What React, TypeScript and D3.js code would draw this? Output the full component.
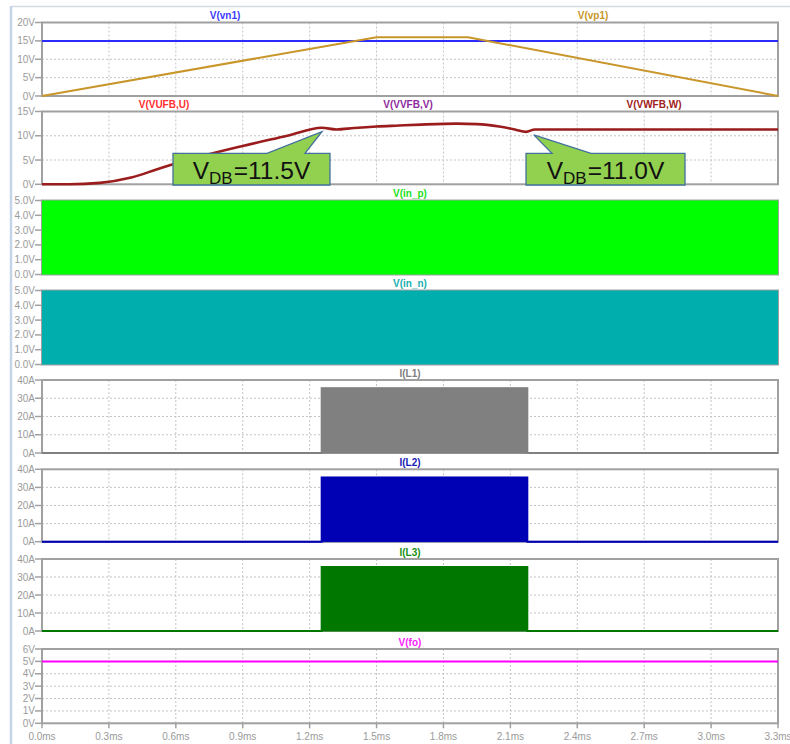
import * as d3 from 'd3';
import React from 'react';

// time axis (ms)
const timeTicks = [0, 0.3, 0.6, 0.9, 1.2, 1.5, 1.8, 2.1, 2.4, 2.7, 3.0, 3.3];

// V(vn1) / V(vp1)
const vn1T = [0, 3.3];
const vn1V = [15, 15];
const vp1T = [0, 1.5, 1.91, 3.3];
const vp1V = [0, 16, 16, 0];

// V(VUFB,U) ~ V(VVFB,V) ~ V(VWFB,W) (overlapping)
const fbT = [0, 0.12, 0.26, 0.4, 0.53, 0.7, 0.9, 1.1, 1.255, 1.32, 1.4, 1.5, 1.6, 1.7, 1.86, 1.95, 2.05, 2.12, 2.17, 2.21, 3.3];
const fbV = [0, 0, 0.3, 1.4, 3.3, 5.6, 7.9, 10.0, 11.65, 11.3, 11.6, 11.9, 12.1, 12.3, 12.5, 12.4, 11.9, 11.3, 10.8, 11.3, 11.3];

// V(in_p) / V(in_n) envelope (dense switching)
const inT = [0, 3.3];
const inV = [5, 5];

// I(L1..3) envelope
const iLT = [0, 1.254, 1.254, 2.176, 2.176, 3.3];
const iLV = [0, 0, 35.5, 35.5, 0, 0];

// V(fo)
const foT = [0, 3.3];
const foV = [5, 5];

const vTicks20 = [0, 5, 10, 15, 20];
const vTicks15 = [0, 5, 10, 15];
const vTicks5 = [0, 1, 2, 3, 4, 5];
const aTicks40 = [0, 10, 20, 30, 40];
const vTicks6 = [0, 1, 2, 3, 4, 5, 6];

const fmtV = (v: number) => `${v}V`;
const fmtV1 = (v: number) => `${v.toFixed(1)}V`;
const fmtA = (v: number) => `${v}A`;

const W = 790;
const H = 744;
const x = d3.scaleLinear().domain([0, 3.3]).range([42, 778]);

const zip = (t: number[], v: number[]) => t.map((tt, i) => [tt, v[i]] as [number, number]);

type Trace = { t: number[]; v: number[]; color: string; kind: 'line' | 'area'; width?: number; smooth?: boolean };
type Title = { text: string; color: string; cx: number };

const panels: { top: number; bottom: number; max: number; ticks: number[]; fmt: (v: number) => string; traces: Trace[]; titles: Title[]; cover?: boolean }[] = [
  {
    top: 22.5, bottom: 96, max: 20, ticks: vTicks20, fmt: fmtV,
    traces: [
      { t: vn1T, v: vn1V, color: '#2b2bff', kind: 'line' },
      { t: vp1T, v: vp1V, color: '#c8962a', kind: 'line' },
    ],
    titles: [
      { text: 'V(vn1)', color: '#3b3bff', cx: 225 },
      { text: 'V(vp1)', color: '#c8962a', cx: 593 },
    ],
  },
  {
    top: 111.5, bottom: 184.3, max: 15, ticks: vTicks15, fmt: fmtV,
    traces: [{ t: fbT, v: fbV, color: '#9a1c1c', kind: 'line', width: 2.6, smooth: true }],
    titles: [
      { text: 'V(VUFB,U)', color: '#ff3030', cx: 164 },
      { text: 'V(VVFB,V)', color: '#8e2a9e', cx: 408 },
      { text: 'V(VWFB,W)', color: '#a02020', cx: 654 },
    ],
  },
  {
    top: 200.5, bottom: 274.5, max: 5, ticks: vTicks5, fmt: fmtV1, cover: true,
    traces: [{ t: inT, v: inV, color: '#00ff00', kind: 'area' }],
    titles: [{ text: 'V(in_p)', color: '#22e022', cx: 410 }],
  },
  {
    top: 290.5, bottom: 364.5, max: 5, ticks: vTicks5, fmt: fmtV1, cover: true,
    traces: [{ t: inT, v: inV, color: '#00aeae', kind: 'area' }],
    titles: [{ text: 'V(in_n)', color: '#20b0b0', cx: 410 }],
  },
  {
    top: 380, bottom: 453, max: 40, ticks: aTicks40, fmt: fmtA,
    traces: [{ t: iLT, v: iLV, color: '#808080', kind: 'area' }],
    titles: [{ text: 'I(L1)', color: '#808080', cx: 410 }],
  },
  {
    top: 469.3, bottom: 541.7, max: 40, ticks: aTicks40, fmt: fmtA,
    traces: [{ t: iLT, v: iLV, color: '#0000b4', kind: 'area' }],
    titles: [{ text: 'I(L2)', color: '#1a1ab4', cx: 410 }],
  },
  {
    top: 559, bottom: 631, max: 40, ticks: aTicks40, fmt: fmtA,
    traces: [{ t: iLT, v: iLV, color: '#007800', kind: 'area' }],
    titles: [{ text: 'I(L3)', color: '#189018', cx: 410 }],
  },
  {
    top: 649, bottom: 723.3, max: 6, ticks: vTicks6, fmt: fmtV,
    traces: [{ t: foT, v: foV, color: '#ff00ff', kind: 'line' }],
    titles: [{ text: 'V(fo)', color: '#ff20ff', cx: 410 }],
  },
];

const callouts = [
  { label: '=11.5V', t: 1.255, v: 11.65, box: [173, 330], base: [267, 305] },
  { label: '=11.0V', t: 2.205, v: 11.0, box: [526, 685], base: [552, 591] },
];

const frameColor = '#a0a0a0';
const gridColor = '#c4c4c4';
const labelColor = '#9a9a9a';
const font = 'Liberation Sans, Arial, sans-serif';

function Panel({ p }: { p: typeof panels[number] }) {
  const y = d3.scaleLinear().domain([0, p.max]).range([p.bottom, p.top]);
  const [x0, x1] = x.range();
  return (
    <g>
      {timeTicks.slice(1, -1).map((t) => (
        <line key={'vg' + t} x1={x(t)} x2={x(t)} y1={p.top} y2={p.bottom} stroke={gridColor} strokeDasharray="2,2" />
      ))}
      {p.ticks.slice(1, -1).map((v) => (
        <line key={'hg' + v} x1={x0} x2={x1} y1={y(v)} y2={y(v)} stroke={gridColor} strokeDasharray="2,2" />
      ))}
      <rect x={x0} y={p.top} width={x1 - x0} height={p.bottom - p.top} fill="none" stroke={frameColor} strokeWidth={2} />
      {p.ticks.map((v) => (
        <g key={'t' + v}>
          <line x1={x0 - 7} x2={x0} y1={y(v)} y2={y(v)} stroke={frameColor} strokeWidth={1.5} />
          <text x={x0 - 7} y={y(v)} dy="0.35em" textAnchor="end" fontSize={10} fill={labelColor} fontFamily={font}>
            {p.fmt(v)}
          </text>
        </g>
      ))}
      {p.traces.map((tr, i) => {
        const pts = zip(tr.t, tr.v);
        if (tr.kind === 'area') {
          const area = d3.area<[number, number]>().x((d) => x(d[0])).y0(y(0)).y1((d) => y(d[1]));
          const line = d3.line<[number, number]>().x((d) => x(d[0])).y((d) => y(d[1]));
          return (
            <g key={i}>
              <path d={area(pts) || ''} fill={tr.color} stroke={p.cover ? 'none' : tr.color} strokeWidth={1} />
              {!p.cover && <path d={line(pts) || ''} fill="none" stroke={tr.color} strokeWidth={2} />}
            </g>
          );
        }
        const line = d3
          .line<[number, number]>()
          .x((d) => x(d[0]))
          .y((d) => y(d[1]))
          .curve(tr.smooth ? d3.curveMonotoneX : d3.curveLinear);
        return <path key={i} d={line(pts) || ''} fill="none" stroke={tr.color} strokeWidth={tr.width || 2} strokeLinejoin="round" />;
      })}
      {p.titles.map((t) => (
        <text key={t.text} x={t.cx} y={p.top - 3.5} textAnchor="middle" fontSize={10} fontWeight="bold" fill={t.color} fontFamily={font}>
          {t.text}
        </text>
      ))}
    </g>
  );
}

export default function App() {
  const fbPanel = panels[1];
  const yFb = d3.scaleLinear().domain([0, fbPanel.max]).range([fbPanel.bottom, fbPanel.top]);
  const last = panels[panels.length - 1];
  return (
    <svg width={W} height={H} style={{ position: 'absolute', left: 0, top: 0, background: '#fff' }}>
      <line x1={11} x2={W} y1={6.5} y2={6.5} stroke="#d4dbe4" strokeWidth={1.5} />
      <line x1={11} x2={11} y1={6} y2={H} stroke="#c6d4e8" strokeWidth={2.5} />
      {panels.map((p, i) => (
        <Panel key={i} p={p} />
      ))}
      {timeTicks.map((t) => (
        <g key={'xt' + t}>
          <line x1={x(t)} x2={x(t)} y1={last.bottom} y2={last.bottom + 5} stroke={frameColor} strokeWidth={1.5} />
          <text x={x(t)} y={740} textAnchor="middle" fontSize={10} fill={labelColor} fontFamily={font}>
            {t.toFixed(1)}ms
          </text>
        </g>
      ))}
      {callouts.map((c) => {
        const tipX = x(c.t);
        const tipY = yFb(c.v) + 4;
        const top = 153.3;
        const bottom = 185;
        const [bl, br] = c.box;
        const [b0, b1] = c.base;
        const d = `M${bl},${top} L${b0},${top} L${tipX},${tipY} L${b1},${top} L${br},${top} L${br},${bottom} L${bl},${bottom} Z`;
        return (
          <g key={c.label}>
            <path d={d} fill="#92d050" stroke="#41719c" strokeWidth={1.3} />
            <text x={(bl + br) / 2} y={178.5} textAnchor="middle" fontSize={24.5} fill="#111" fontFamily={font}>
              <tspan>V</tspan>
              <tspan fontSize={17} dy={5}>DB</tspan>
              <tspan dy={-5} dx={1}>{c.label}</tspan>
            </text>
          </g>
        );
      })}
    </svg>
  );
}
